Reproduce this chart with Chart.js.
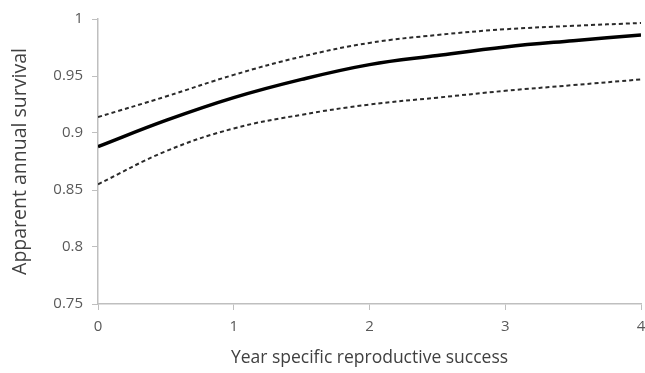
<!DOCTYPE html>
<html>
<head>
<meta charset="utf-8">
<script src="https://cdn.jsdelivr.net/npm/chart.js@4"></script>
<style>
  html, body { margin: 0; padding: 0; background: #fff; }
  #wrap { width: 645px; height: 373px; }
</style>
</head>
<body>
<div id="wrap"><canvas id="survivalChart" width="645" height="373"></canvas></div>
<script>
// reproductive success values (x)
const successX = [0, 0.5, 1, 1.5, 2, 2.5, 3, 3.5, 4];
// estimated survival and confidence limits
const survival = [0.888, 0.911, 0.931, 0.947, 0.960, 0.968, 0.9755, 0.981, 0.986];
const upperCI = [0.914, 0.932, 0.951, 0.967, 0.979, 0.986, 0.991, 0.994, 0.9965];
const lowerCI = [0.855, 0.884, 0.904, 0.916, 0.925, 0.931, 0.937, 0.942, 0.947];
const xTickLabels = ['0', '1', '2', '3', '4'];
const yTickLabels = ['0.75', '0.8', '0.85', '0.9', '0.95', '1'];

function toPoints(ys) {
    return successX.map((x, i) => ({ x: x, y: ys[i] }));
}

const axisGray = '#bfbfbf';
const labelGray = '#595959';

const ctx = document.getElementById('survivalChart').getContext('2d');
new Chart(ctx, {
    type: 'line',
    data: {
        datasets: [
            {
                label: 'Upper',
                data: toPoints(upperCI),
                borderColor: '#2a2a2a',
                borderWidth: 2,
                borderDash: [4, 3],
                pointRadius: 0,
                tension: 0.4
            },
            {
                label: 'Survival',
                data: toPoints(survival),
                borderColor: '#000',
                borderWidth: 3.5,
                pointRadius: 0,
                tension: 0.4
            },
            {
                label: 'Lower',
                data: toPoints(lowerCI),
                borderColor: '#2a2a2a',
                borderWidth: 2,
                borderDash: [4, 3],
                pointRadius: 0,
                tension: 0.4
            }
        ]
    },
    options: {
        responsive: false,
        animation: false,
        layout: { padding: { top: 19, right: 4, left: 0, bottom: 0 } },
        plugins: {
            legend: { display: false },
            tooltip: { enabled: false }
        },
        scales: {
            x: {
                type: 'linear',
                min: 0,
                max: 4,
                afterFit: (scale) => {
                    scale.height = 69;
                    // let the last label run off the edge like the original
                    scale.paddingRight = 0;
                    scale.paddingLeft = 0;
                },
                afterBuildTicks: (scale) => {
                    scale.ticks = xTickLabels.map(v => ({ value: Number(v) }));
                },
                border: { color: axisGray, width: 1.5 },
                grid: { drawOnChartArea: false, drawTicks: true, tickLength: 6, color: axisGray },
                ticks: {
                    color: labelGray,
                    font: { family: 'Open Sans', size: 15 },
                    padding: 8,
                    callback: (v) => xTickLabels[Math.round(v)]
                },
                title: {
                    display: true,
                    text: 'Year specific reproductive success',
                    color: '#404040',
                    font: { family: 'Open Sans', size: 17.5 },
                    padding: { top: 4 }
                }
            },
            y: {
                min: 0.75,
                max: 1,
                afterFit: (scale) => { scale.width = 98; },
                afterBuildTicks: (scale) => {
                    scale.ticks = yTickLabels.map(v => ({ value: Number(v) }));
                },
                border: { color: axisGray, width: 1.5 },
                grid: { drawOnChartArea: false, drawTicks: true, tickLength: 6, color: axisGray },
                ticks: {
                    color: labelGray,
                    font: { family: 'Open Sans', size: 15 },
                    padding: 9,
                    callback: (v) => yTickLabels.find(t => Math.abs(Number(t) - v) < 1e-6)
                },
                title: {
                    display: true,
                    text: 'Apparent annual survival',
                    color: '#404040',
                    font: { family: 'Open Sans', size: 19.5 },
                    padding: { top: 9, bottom: 2 }
                }
            }
        }
    }
});
</script>
</body>
</html>
